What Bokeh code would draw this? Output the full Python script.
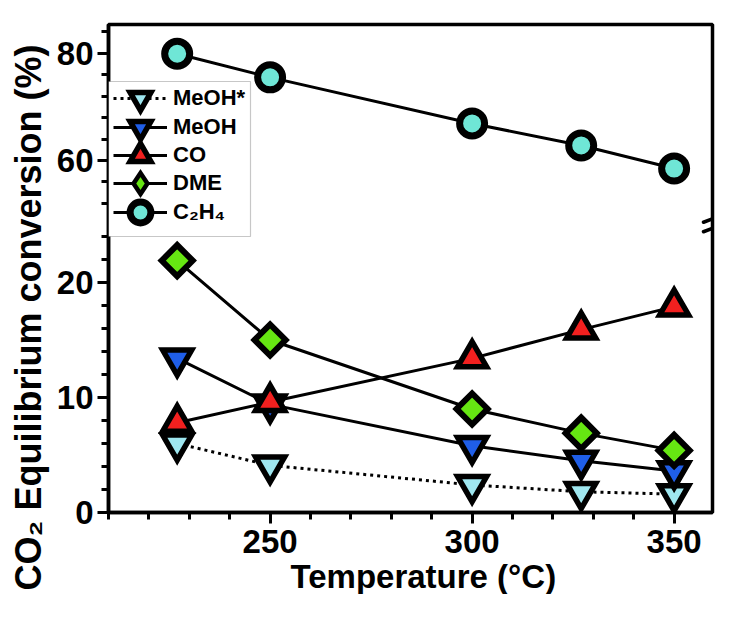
import numpy as np
from bokeh.plotting import figure
from bokeh.models import (Range1d, FixedTicker, SingleIntervalTicker, CustomJSTickFormatter,
                          Legend, LegendItem, Arrow, BoxAnnotation, Title)
from bokeh.embed import file_html
from bokeh.resources import INLINE

# ---------------- data ----------------
temperature = [227, 250, 300, 327, 350]
meoh_star = [6.0, 4.1, 2.4, 1.8, 1.6]
meoh = [13.4, 9.4, 5.8, 4.5, 3.6]
co = [7.8, 9.6, 13.4, 15.9, 17.9]
dme = [21.9, 15.0, 9.0, 6.9, 5.4]
c2h4 = [79.9, 75.5, 66.9, 62.8, 58.5]

series_labels = ["MeOH*", "MeOH", "CO", "DME", "C\u2082H\u2084"]

y_lower_major = [0, 10, 20]
y_lower_minor = [2, 4, 6, 8, 12, 14, 16, 18, 22, 24]
y_upper_major = [60, 80]
y_upper_minor = [52, 56, 64, 68, 72, 76, 84]

# ---------------- layout ----------------
FRAME_L, FRAME_T = 108, 24
FRAME_W, FRAME_H = 604, 488
FRAME_B = FRAME_T + FRAME_H
FONT = "Liberation Sans"

x_range = Range1d(210, 359.5)
y_lo = Range1d(0, 42.43)        # lower segment (0..25 visible)
y_up = Range1d(-5.61, 85.35)    # upper segment (48..85 visible)
BREAK_PX = 222                  # page y of the axis break

def to_lower(v):
    return y_lo.start + (v - y_up.start) * (y_lo.end - y_lo.start) / (y_up.end - y_up.start)

sx = FRAME_W / (x_range.end - x_range.start)
sy = FRAME_H / (y_lo.end - y_lo.start)

def px_to_lower(py):
    return y_lo.start + (FRAME_B - py) / sy

p = figure(frame_width=FRAME_W, frame_height=FRAME_H, x_range=x_range, y_range=y_lo,
           output_backend="svg", toolbar_location=None,
           min_border_left=FRAME_L, min_border_top=FRAME_T, min_border_right=18, min_border_bottom=0)
p.extra_y_ranges = {"upper": y_up}
p.xgrid.visible = False
p.ygrid.visible = False
p.outline_line_color = "black"
p.outline_line_width = 3.5
p.background_fill_color = "white"

LW = 3
r_l1 = p.line(temperature, meoh_star, line_color="black", line_width=3, line_dash="3 4")
r_l2 = p.line(temperature, meoh, line_color="black", line_width=LW)
r_l3 = p.line(temperature, co, line_color="black", line_width=LW)
r_l4 = p.line(temperature, dme, line_color="black", line_width=LW)
r_l5 = p.line(temperature, c2h4, line_color="black", line_width=LW, y_range_name="upper")

col_meoh_star, col_meoh, col_co, col_dme, col_c2h4 = "#9fe7f0", "#1f5ee8", "#f2201f", "#66e612", "#6fe6d6"

r_s1 = p.scatter(temperature, meoh_star, marker="inverted_triangle", size=29, fill_color=col_meoh_star,
                 line_color="black", line_width=5.5, line_join="miter")
r_s2 = p.scatter(temperature, meoh, marker="inverted_triangle", size=29, fill_color=col_meoh,
                 line_color="black", line_width=5.5, line_join="miter")
r_s3 = p.scatter(temperature, co, marker="triangle", size=29, fill_color=col_co,
                 line_color="black", line_width=5.5, line_join="miter")
# diamond key symbol for the legend (legend glyphs are drawn unrotated); it sits fully
# underneath the rotated-square DME markers, so only the legend shows it
r_s4_key = p.scatter(temperature, dme, marker="diamond", size=14, fill_color=col_dme,
                     line_color="black", line_width=4.5, line_join="miter")
r_s4 = p.scatter(temperature, dme, marker="square", angle=np.pi / 4, size=22, fill_color=col_dme,
                 line_color="black", line_width=6, line_join="miter")
r_s5 = p.scatter(temperature, c2h4, marker="circle", size=25, fill_color=col_c2h4,
                 line_color="black", line_width=7, y_range_name="upper")

# ---------------- axes ----------------
xa = p.xaxis[0]
xa.ticker = SingleIntervalTicker(interval=50, num_minor_ticks=5)

ya = p.yaxis[0]
ya.ticker = FixedTicker(ticks=y_lower_major + [to_lower(v) for v in y_upper_major],
                        minor_ticks=y_lower_minor + [to_lower(v) for v in y_upper_minor])
brk_lower = px_to_lower(BREAK_PX)
ya.formatter = CustomJSTickFormatter(args=dict(lo=y_lo, up=y_up, brk=brk_lower), code="""
    if (tick <= brk) { return tick.toFixed(0); }
    const v = up.start + (tick - lo.start) * (up.end - up.start) / (lo.end - lo.start);
    return v.toFixed(0);
""")

for ax in (xa, ya):
    ax.axis_line_color = "black"
    ax.axis_line_width = 3.5
    ax.major_tick_line_width = 3
    ax.minor_tick_line_width = 3
    ax.major_tick_out = 11
    ax.minor_tick_out = 7
    ax.major_tick_in = 0
    ax.minor_tick_in = 0
    ax.major_label_text_font = FONT
    ax.major_label_text_font_style = "bold"
    ax.major_label_text_font_size = "33px"
    ax.major_label_text_color = "black"

xa.major_label_standoff = 6
ya.major_label_standoff = 4

# axis titles (placed as titles so they can be offset along the axis like the reference)
p.add_layout(Title(text="CO\u2082 Equilibrium conversion (%)", align="left", offset=-78,
                   text_font=FONT, text_font_style="bold", text_font_size="36px",
                   text_color="black", standoff=10), "left")
p.add_layout(Title(text="Temperature (\u00b0C)", align="left", offset=182,
                   text_font=FONT, text_font_style="bold", text_font_size="33px",
                   text_color="black", standoff=0), "below")

# ---------------- break marks ----------------
for (xc, hw, hr) in ((x_range.start - 4 / sx, 7.5, 3.0), (x_range.end + 3 / sx, 12, 4.5)):
    for off in (4.75, -4.75):
        yc = brk_lower + off / sy
        p.add_layout(Arrow(end=None, x_start=xc - hw / sx, y_start=yc - hr / sy,
                           x_end=xc + hw / sx, y_end=yc + hr / sy,
                           line_color="black", line_width=3.5, line_cap="round"))

# ---------------- legend ----------------
LEG_TOP, LEG_BOTTOM, LEG_W = 81, 236, 142
p.add_layout(BoxAnnotation(left=x_range.start, right=x_range.start + LEG_W / sx,
                           top=px_to_lower(LEG_TOP), bottom=px_to_lower(LEG_BOTTOM),
                           fill_color="white", fill_alpha=1.0,
                           line_color="#444444", line_width=1.2))

row_centers = [98.3, 126.7, 155.0, 183.3, 211.7]
GLYPH_H = 52
keys = [[r_l1, r_s1], [r_l2, r_s2], [r_l3, r_s3], [r_l4, r_s4_key], [r_l5, r_s5]]
for lab, rends, cy in zip(series_labels, keys, row_centers):
    leg = Legend(items=[LegendItem(label=lab, renderers=rends)],
                 location=(5, FRAME_B - cy - GLYPH_H / 2), orientation="vertical",
                 glyph_width=54, glyph_height=GLYPH_H, spacing=0, padding=0, margin=0,
                 label_standoff=6, label_text_font=FONT, label_text_font_style="bold",
                 label_text_font_size="22px", label_text_color="black",
                 border_line_alpha=0, background_fill_alpha=0)
    p.add_layout(leg)

open("out.html", "w").write(file_html(p, INLINE))
